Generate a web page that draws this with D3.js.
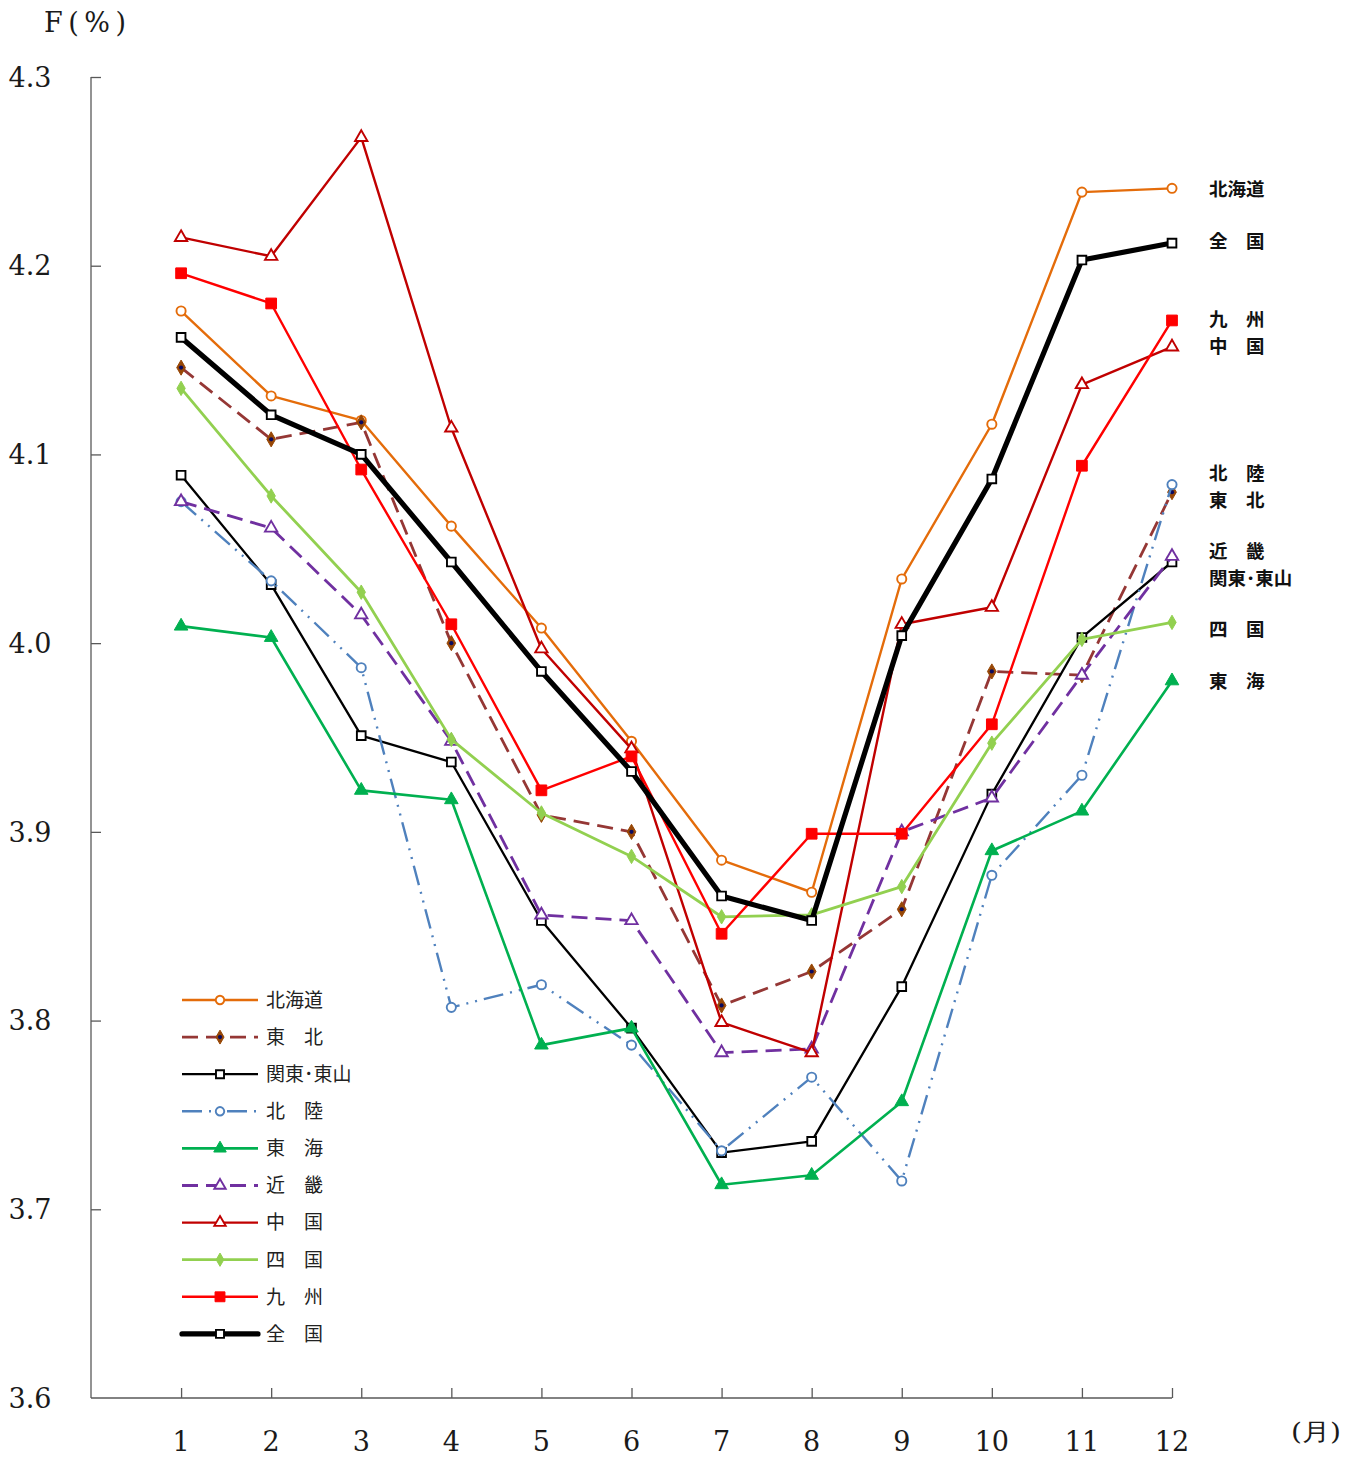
<!DOCTYPE html>
<html><head><meta charset="utf-8">
<script src="https://cdn.jsdelivr.net/npm/d3@7/dist/d3.min.js"></script>
<style>
html,body{margin:0;padding:0;background:#fff;}
svg{display:block;}
</style></head>
<body><svg id="c" width="1360" height="1459"></svg>
<script>
const months = [1,2,3,4,5,6,7,8,9,10,11,12];
const yTicks = [3.6,3.7,3.8,3.9,4.0,4.1,4.2,4.3];
const seriesNames = ["北海道","東　北","関東･東山","北　陸","東　海","近　畿","中　国","四　国","九　州","全　国"];
const hokkaido = [4.176,4.131,4.118,4.062,4.008,3.948,3.885,3.868,4.034,4.116,4.239,4.241];
const tohoku   = [4.146,4.108,4.117,4.000,3.909,3.900,3.808,3.826,3.859,3.985,3.983,4.080];
const kanto    = [4.089,4.031,3.951,3.937,3.853,3.796,3.730,3.736,3.818,3.920,4.003,4.043];
const hokuriku = [4.075,4.033,3.987,3.807,3.819,3.787,3.731,3.770,3.715,3.877,3.930,4.084];
const tokai    = [4.009,4.003,3.922,3.917,3.787,3.796,3.713,3.718,3.757,3.890,3.911,3.980];
const kinki    = [4.075,4.061,4.015,3.948,3.856,3.853,3.783,3.785,3.900,3.918,3.983,4.046];
const chugoku  = [4.215,4.205,4.268,4.114,3.997,3.944,3.799,3.783,4.010,4.019,4.137,4.157];
const shikoku  = [4.135,4.078,4.027,3.949,3.910,3.887,3.855,3.856,3.871,3.947,4.002,4.011];
const kyushu   = [4.196,4.180,4.092,4.010,3.922,3.940,3.846,3.899,3.899,3.957,4.094,4.171];
const zenkoku  = [4.162,4.121,4.100,4.043,3.985,3.932,3.866,3.853,4.004,4.087,4.203,4.212];
const rightLabels = ["北海道","全　国","九　州","中　国","北　陸","東　北","近　畿","関東･東山","四　国","東　海"];

const styles = [
  {c:"#E46C0A", w:2.4, dash:null, m:"circle", fill:"#fff"},
  {c:"#953735", w:2.8, dash:"16,8", m:"diamond", fill:"#974706", dot:true},
  {c:"#000", w:2.3, dash:null, m:"square", fill:"#fff"},
  {c:"#4F81BD", w:2.4, dash:"20,7,2,7,2,7", m:"circle", fill:"#fff"},
  {c:"#00B050", w:2.6, dash:null, m:"triangle", fill:"#00B050"},
  {c:"#7030A0", w:2.8, dash:"16,8", m:"triangle", fill:"#fff"},
  {c:"#C00000", w:2.4, dash:null, m:"triangle", fill:"#fff"},
  {c:"#92D050", w:2.8, dash:null, m:"diamond", fill:"#92D050"},
  {c:"#FF0000", w:2.4, dash:null, m:"square", fill:"#FF0000"},
  {c:"#000", w:5.2, dash:null, m:"square", fill:"#fff"}
];
const data = [hokkaido,tohoku,kanto,hokuriku,tokai,kinki,chugoku,shikoku,kyushu,zenkoku];

const svg = d3.select("#c");
const x = d3.scaleLinear().domain([0,12]).range([91,1172]);
const y = d3.scaleLinear().domain([3.6,4.3]).range([1398,77]);
const serif = "'DejaVu Serif','Liberation Serif',serif";
const jp = "'Noto Sans CJK JP','Noto Sans',sans-serif";

// axes
const yAx = svg.append("g").attr("transform","translate(91,0)")
  .call(d3.axisRight(y).tickValues(yTicks.slice(1)).tickSize(10).tickFormat(""));
yAx.select(".domain").attr("d","M0,77V1398");
yAx.selectAll("line,path").attr("stroke","#595959").attr("stroke-width",1.3);
const xAx = svg.append("g").attr("transform","translate(0,1398)")
  .call(d3.axisTop(x).tickValues(months).tickSize(10).tickFormat(""));
xAx.select(".domain").attr("d","M91,0H1172");
xAx.selectAll("line,path").attr("stroke","#595959").attr("stroke-width",1.3);

svg.append("g").selectAll("text").data(yTicks).join("text")
  .attr("x",30).attr("y",d=>y(d)).attr("dy","0.36em")
  .attr("text-anchor","middle").attr("font-family",serif).attr("font-size",27)
  .attr("fill","#1a1a1a").text(d=>d.toFixed(1));
svg.append("g").selectAll("text").data(months).join("text")
  .attr("x",d=>x(d)).attr("y",1441).attr("dy","0.36em")
  .attr("text-anchor","middle").attr("font-family",serif).attr("font-size",27)
  .attr("fill","#1a1a1a").text(d=>d);
svg.append("text").attr("x",44).attr("y",22).attr("dy","0.36em")
  .attr("font-family",serif).attr("font-size",27).attr("fill","#1a1a1a")
  .attr("textLength",82).attr("lengthAdjust","spacing").text("F(%)");
svg.append("text").attr("x",1341).attr("y",1431).attr("dy","0.36em")
  .attr("text-anchor","end")
  .attr("font-family",serif).attr("font-size",24).attr("fill","#1a1a1a")
  .attr("textLength",50).attr("lengthAdjust","spacingAndGlyphs").text("(月)");

function marker(g, st, cx, cy, scale){
  scale = scale||1;
  const t = st.m;
  let sym, size;
  if(t==="circle"){ sym=d3.symbolCircle; size=66; }
  else if(t==="square"){ sym=d3.symbolSquare; size=st.fill==="#fff"?76:115; }
  else if(t==="triangle"){ sym=d3.symbolTriangle; size=st.fill==="#fff"?66:80; }
  else { sym=d3.symbolDiamond; size=st.dot?66:60; }
  g.append("path").attr("d",d3.symbol(sym,size*scale)())
    .attr("transform",`translate(${cx},${cy})`)
    .attr("fill",st.fill)
    .attr("stroke", t==="diamond"&&!st.dot ? st.fill : (st.dot?"#974706":st.c))
    .attr("stroke-width", st.fill==="#fff"?1.9:1);
  if(st.dot){
    g.append("circle").attr("cx",cx).attr("cy",cy).attr("r",2.1).attr("fill","#0a0a60");
  }
}

const line = d3.line().x((d,i)=>x(months[i])).y(d=>y(d));
data.forEach((vals,k)=>{
  const st = styles[k];
  const g = svg.append("g");
  g.append("path").datum(vals).attr("d",line).attr("fill","none")
    .attr("stroke",st.c).attr("stroke-width",st.w)
    .attr("stroke-dasharray",st.dash).attr("stroke-linejoin","round");
  vals.forEach((v,i)=>marker(g, st, x(months[i]), y(v)));
});

// legend
const leg = svg.append("g");
seriesNames.forEach((n,k)=>{
  const st = styles[k];
  const yy = 1000 + k*37.1;
  leg.append("line").attr("x1",182).attr("x2",258).attr("y1",yy).attr("y2",yy)
    .attr("stroke",st.c).attr("stroke-width",st.w)
    .attr("stroke-dasharray",st.dash).attr("stroke-linecap", k===9?"round":"butt");
  marker(leg, st, 220, yy, 0.85);
  leg.append("text").attr("x",266).attr("y",yy).attr("dy","0.36em")
    .attr("font-family",jp).attr("font-size",19).attr("fill","#222").text(n);
});

// right labels
const rightY = [189,241,319,346,473,500,551,578,629,681];
svg.append("g").selectAll("text").data(rightLabels).join("text")
  .attr("x",1209).attr("y",(d,i)=>rightY[i]).attr("dy","0.36em")
  .attr("font-family",jp).attr("font-weight","bold").attr("font-size",18.5)
  .attr("fill","#111").text(d=>d);
</script></body></html>
